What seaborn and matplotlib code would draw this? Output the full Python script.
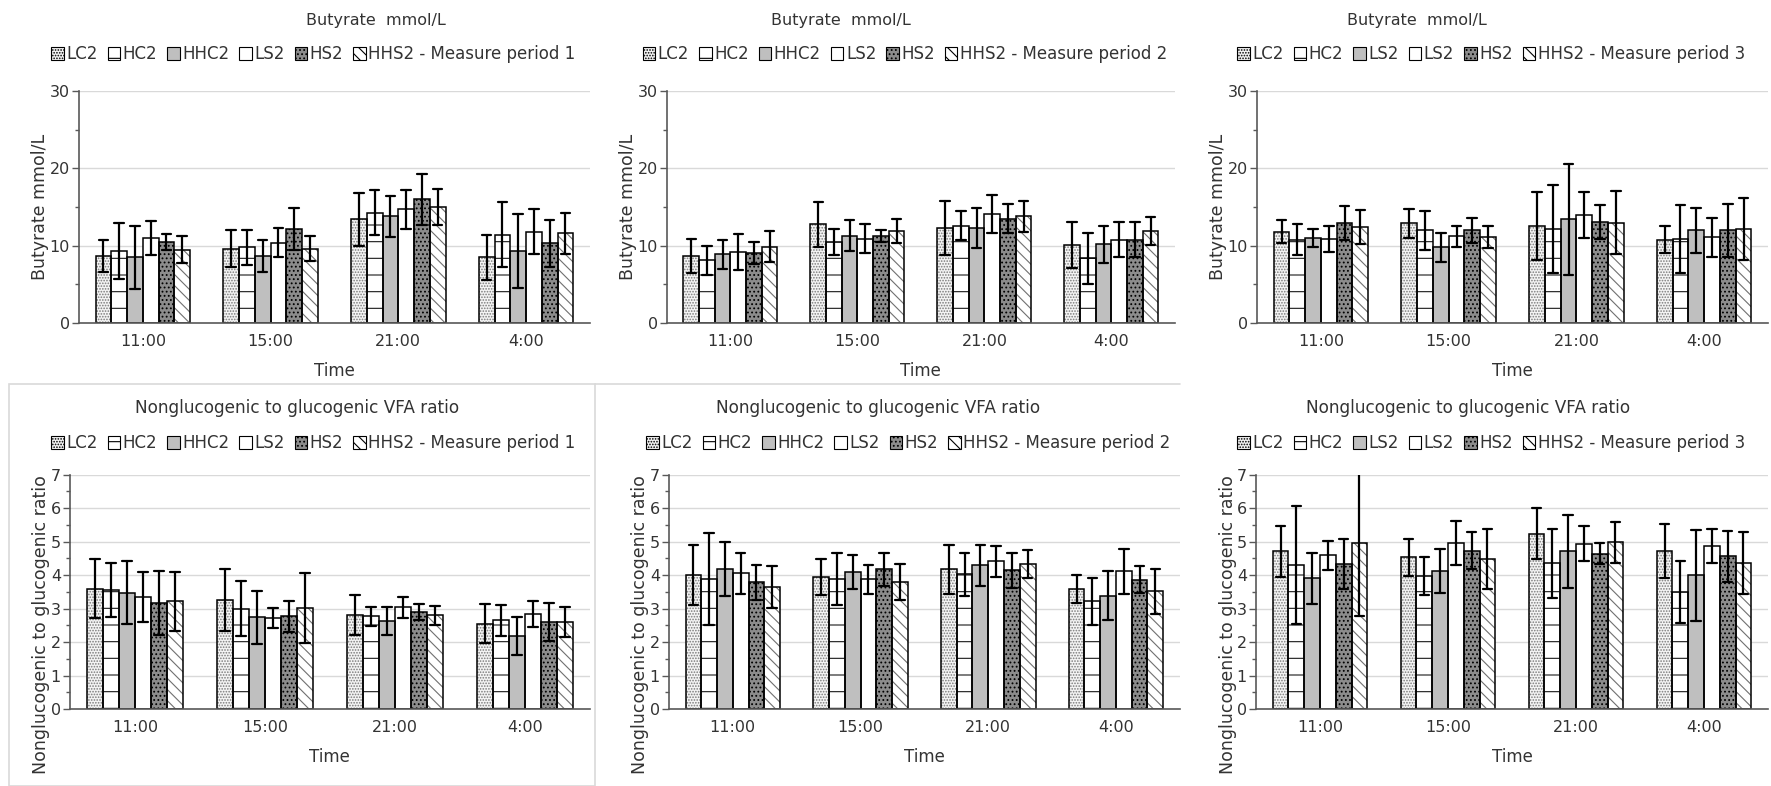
import matplotlib
matplotlib.use("Agg")
import matplotlib.pyplot as plt
import numpy as np
import pandas as pd
import seaborn as sns
from matplotlib.patches import Patch, Rectangle
from matplotlib.lines import Line2D
from matplotlib.ticker import MultipleLocator

# ---------------- data ----------------
times = ["11:00", "15:00", "21:00", "4:00"]
groups = ["LC2", "HC2", "HHC2", "LS2", "HS2", "HHS2"]
legend_p12 = ["LC2", "HC2", "HHC2", "LS2", "HS2", "HHS2"]
legend_p3 = ["LC2", "HC2", "LS2", "LS2", "HS2", "HHS2"]

butyrate_title = "Butyrate  mmol/L"
butyrate_ylabel = "Butyrate mmol/L"
ratio_title = "Nonglucogenic to glucogenic VFA ratio"
ratio_ylabel = "Nonglucogenic to glucogenic ratio"
xlabel = "Time"

# rows: LC2, HC2, HHC2, LS2, HS2, HHS2 ; columns: 11:00, 15:00, 21:00, 4:00
but_p1_mean = [[8.7, 9.6, 13.4, 8.5], [9.3, 9.8, 14.3, 11.4], [8.5, 8.7, 13.8, 9.3],
               [11.0, 10.4, 14.7, 11.8], [10.5, 12.2, 16.0, 10.3], [9.5, 9.6, 15.0, 11.6]]
but_p1_sd = [[2.1, 2.4, 3.4, 2.9], [3.6, 2.3, 2.9, 4.2], [4.1, 2.1, 2.7, 4.8],
             [2.2, 1.9, 2.5, 2.9], [1.0, 2.7, 3.3, 3.0], [1.7, 1.6, 2.3, 2.7]]

but_p2_mean = [[8.7, 12.8, 12.3, 10.1], [8.1, 10.5, 12.6, 8.4], [8.9, 11.3, 12.3, 10.2],
               [9.2, 10.9, 14.1, 10.8], [9.1, 11.3, 13.5, 10.8], [9.9, 11.9, 13.8, 11.9]]
but_p2_sd = [[2.2, 2.9, 3.5, 3.0], [1.9, 1.7, 1.9, 3.3], [1.9, 2.0, 2.6, 2.4],
             [2.3, 1.9, 2.5, 2.3], [1.4, 0.8, 1.9, 2.3], [2.0, 1.5, 2.0, 1.8]]

but_p3_mean = [[11.8, 12.9, 12.5, 10.8], [10.8, 12.0, 12.2, 10.9], [11.0, 9.8, 13.4, 12.0],
               [10.9, 11.2, 14.0, 11.1], [12.9, 12.0, 13.1, 12.0], [12.4, 11.1, 13.0, 12.2]]
but_p3_sd = [[1.5, 1.9, 4.4, 1.8], [2.0, 2.5, 5.7, 4.4], [1.2, 1.9, 7.2, 2.9],
             [1.7, 1.3, 3.0, 2.5], [2.2, 1.6, 2.2, 3.4], [2.2, 1.4, 4.1, 4.0]]

rat_p1_mean = [[3.60, 3.25, 2.80, 2.55], [3.56, 3.00, 2.77, 2.65], [3.48, 2.74, 2.62, 2.18],
               [3.34, 2.72, 3.04, 2.84], [3.17, 2.77, 2.90, 2.60], [3.22, 3.02, 2.80, 2.60]]
rat_p1_sd = [[0.87, 0.92, 0.60, 0.58], [0.80, 0.83, 0.28, 0.47], [0.95, 0.80, 0.42, 0.56],
             [0.74, 0.30, 0.31, 0.38], [0.95, 0.46, 0.25, 0.58], [0.88, 1.05, 0.28, 0.46]]

rat_p2_mean = [[4.01, 3.94, 4.17, 3.58], [3.88, 3.88, 4.03, 3.22], [4.19, 4.10, 4.29, 3.39],
               [4.05, 3.88, 4.41, 4.11], [3.79, 4.17, 4.14, 3.86], [3.64, 3.79, 4.33, 3.52]]
rat_p2_sd = [[0.90, 0.53, 0.72, 0.42], [1.37, 0.77, 0.64, 0.70], [0.80, 0.51, 0.62, 0.72],
             [0.60, 0.43, 0.47, 0.68], [0.52, 0.50, 0.51, 0.40], [0.62, 0.54, 0.41, 0.67]]

rat_p3_mean = [[4.71, 4.53, 5.24, 4.71], [4.31, 3.98, 4.36, 3.50], [3.90, 4.13, 4.71, 3.99],
               [4.59, 4.95, 4.94, 4.87], [4.34, 4.73, 4.64, 4.56], [4.95, 4.48, 4.98, 4.36]]
rat_p3_sd = [[0.76, 0.56, 0.77, 0.81], [1.76, 0.56, 1.03, 0.93], [0.76, 0.65, 1.09, 1.36],
             [0.43, 0.66, 0.53, 0.52], [0.75, 0.55, 0.31, 0.77], [2.16, 0.89, 0.62, 0.93]]

# ---------------- style ----------------
sns.set_theme(style="white")
plt.rcParams["font.family"] = ["DejaVu Sans"]
plt.rcParams["hatch.linewidth"] = 0.8

TXT = "#333333"
face = {"LC2": "#f4f4f4", "HC2": "white", "HHC2": "#bfbfbf", "LS2": "white",
        "HS2": "#8c8c8c", "HHS2": "white"}
hatch = {"LC2": "......", "HC2": "-", "HHC2": "", "LS2": "", "HS2": "....", "HHS2": "\\\\\\"}
hcol = {"LC2": "#7a7a7a", "HC2": "#1a1a1a", "HHC2": "#bfbfbf", "LS2": "white",
        "HS2": "#000000", "HHS2": "#707070"}


def make_df(mean, sd):
    rows = []
    for gi, g in enumerate(groups):
        for ti, t in enumerate(times):
            m, s = mean[gi][ti], sd[gi][ti]
            rows.append((t, g, m - s))
            rows.append((t, g, m + s))
    return pd.DataFrame(rows, columns=["Time", "Group", "value"])


def draw(ax, mean, sd, ylim, major, minor, ylabel, ylab_x, ylab_y):
    df = make_df(mean, sd)
    sns.barplot(data=df, x="Time", y="value", hue="Group", order=times, hue_order=groups,
                palette=face, saturation=1, width=0.74, errorbar=None, linewidth=0,
                legend=False, ax=ax)
    for cont, g in zip(ax.containers, groups):
        for p in cont:
            p.set_hatch(hatch[g])
            p.set_edgecolor(hcol[g])
            if hasattr(p, "set_hatchcolor"):
                p.set_hatchcolor(hcol[g])
            p.set_linewidth(0)
    sns.barplot(data=df, x="Time", y="value", hue="Group", order=times, hue_order=groups,
                palette={g: "black" for g in groups}, fill=False, width=0.74,
                errorbar=("pi", 100), capsize=0.45,
                err_kws={"color": "black", "linewidth": 1.6}, linewidth=1.1,
                legend=False, ax=ax)
    ax.set_ylim(*ylim)
    ax.set_xlim(-0.5, 3.5)
    ax.yaxis.set_major_locator(MultipleLocator(major))
    ax.yaxis.set_minor_locator(MultipleLocator(minor))
    ax.yaxis.grid(True, which="major", color="#d9d9d9", linewidth=1.0)
    ax.set_axisbelow(True)
    for s in ["top", "right"]:
        ax.spines[s].set_visible(False)
    for s in ["left", "bottom"]:
        ax.spines[s].set_color("#595959")
        ax.spines[s].set_linewidth(1.2)
    ax.tick_params(axis="y", which="major", length=5, width=1, color="#595959",
                   labelsize=11.5, labelcolor=TXT, left=True, direction="out", pad=1.5)
    ax.tick_params(axis="y", which="minor", length=3, width=1, color="#595959", left=True)
    ax.tick_params(axis="x", length=0, labelsize=11.5, labelcolor=TXT, pad=8)
    ax.set_ylabel(ylabel, fontsize=12.5, color=TXT)
    ax.set_xlabel(xlabel, fontsize=12, color=TXT, labelpad=9)
    ax.yaxis.set_label_coords(ylab_x, ylab_y)


fig = plt.figure(figsize=(17.71, 7.86), dpi=100)

# chart-area borders seen in the reference
fig.add_artist(Rectangle((9 / 1771, 0.0), 586 / 1771, (786 - 384) / 786,
                         transform=fig.transFigure, fill=False, edgecolor="#d9d9d9", linewidth=1.2))
fig.add_artist(Line2D([595 / 1771, 1180 / 1771], [1 - 384 / 786, 1 - 384 / 786],
                      transform=fig.transFigure, color="#d9d9d9", linewidth=1.2))

panels = [
    # rect, mean, sd, ylim, major, minor, ylabel, ylabel_xy, title, title size, title_xy, labels, period, legend_xy
    ([0.0446, 0.589, 0.2885, 0.295], but_p1_mean, but_p1_sd, (0, 30), 10, 5, butyrate_ylabel, (-0.058, 0.5),
     butyrate_title, 11.5, (0.212, 0.974), legend_p12, 1, (0.177, 0.931)),
    ([0.3766, 0.589, 0.2868, 0.295], but_p2_mean, but_p2_sd, (0, 30), 10, 5, butyrate_ylabel, (-0.058, 0.5),
     butyrate_title, 11.5, (0.475, 0.974), legend_p12, 2, (0.511, 0.931)),
    ([0.7098, 0.589, 0.2885, 0.295], but_p3_mean, but_p3_sd, (0, 30), 10, 5, butyrate_ylabel, (-0.058, 0.5),
     butyrate_title, 11.5, (0.800, 0.974), legend_p3, 3, (0.842, 0.931)),
    ([0.0395, 0.098, 0.2936, 0.298], rat_p1_mean, rat_p1_sd, (0, 7), 1, 0.5, ratio_ylabel, (-0.038, 0.36),
     ratio_title, 12.2, (0.168, 0.481), legend_p12, 1, (0.177, 0.436)),
    ([0.3777, 0.098, 0.2885, 0.298], rat_p2_mean, rat_p2_sd, (0, 7), 1, 0.5, ratio_ylabel, (-0.038, 0.36),
     ratio_title, 12.2, (0.496, 0.481), legend_p12, 2, (0.513, 0.436)),
    ([0.7092, 0.098, 0.2891, 0.298], rat_p3_mean, rat_p3_sd, (0, 7), 1, 0.5, ratio_ylabel, (-0.038, 0.36),
     ratio_title, 12.2, (0.829, 0.481), legend_p3, 3, (0.842, 0.436)),
]

for rect, mean, sd, ylim, major, minor, ylabel, lxy_lab, title, tsize, txy, labels, period, lxy in panels:
    ax = fig.add_axes(rect)
    draw(ax, mean, sd, ylim, major, minor, ylabel, lxy_lab[0], lxy_lab[1])
    fig.text(txy[0], txy[1], title, ha="center", va="center", fontsize=tsize, color=TXT)
    handles = []
    for g in groups:
        handles.append(Patch(facecolor=face[g], edgecolor="black", hatch=hatch[g], linewidth=0.8))
    labs = list(labels)
    labs[-1] = labs[-1] + f" - Measure period {period}"
    fig.legend(handles, labs, loc="center", bbox_to_anchor=lxy, ncol=6, frameon=False,
               fontsize=12, handlelength=0.75, handleheight=0.75, handletextpad=0.15,
               columnspacing=0.6, labelcolor=TXT, borderpad=0, borderaxespad=0)

fig.savefig("out.png", dpi=100)
